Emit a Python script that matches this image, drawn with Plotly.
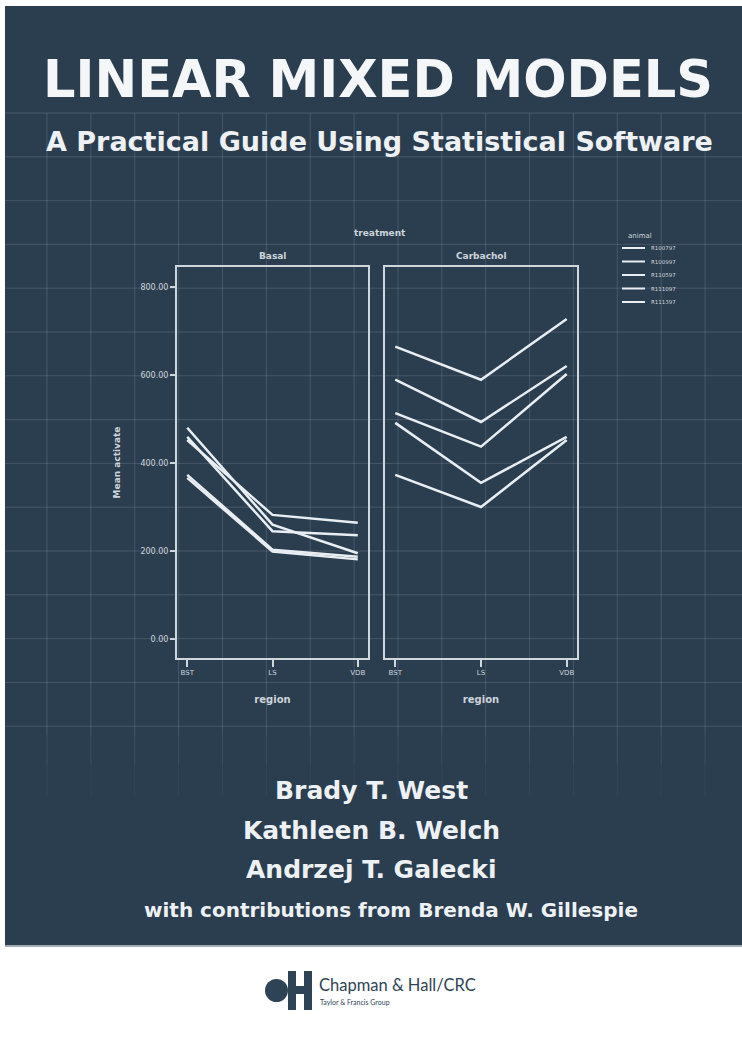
import plotly.graph_objects as go

W, H = 742, 1039

# ---------------- data ----------------
regions = ["BST", "LS", "VDB"]
treatments = ["Basal", "Carbachol"]
animals = ["R100797", "R100997", "R110597", "R111097", "R111397"]

basal_activate = {
    "R100797": [452, 282, 264],
    "R100997": [459, 245, 236],
    "R110597": [373, 203, 187],
    "R111097": [366, 199, 181],
    "R111397": [480, 260, 195],
}
carbachol_activate = {
    "R100797": [589, 493, 620],
    "R100997": [491, 355, 459],
    "R110597": [373, 300, 452],
    "R111097": [664, 589, 727],
    "R111397": [513, 437, 602],
}
y_tick_values = [0, 200, 400, 600, 800]
y_tick_labels = ["0.00", "200.00", "400.00", "600.00", "800.00"]

# ---------------- styling ----------------
NAVY = "#2b3e50"
GRID = "rgba(255,255,255,0.13)"
FRAME = "#cfd6dc"
LINE = "#e9eef2"
SOFT = "#cdd4da"


def px(x):
    return x / W


def py(y):
    return 1 - y / H


fig = go.Figure()

for a in animals:
    fig.add_trace(go.Scatter(
        x=regions, y=basal_activate[a], mode="lines", name=a,
        legendgroup=a, showlegend=False,
        line=dict(color=LINE, width=2.5), xaxis="x", yaxis="y"))
    fig.add_trace(go.Scatter(
        x=regions, y=carbachol_activate[a], mode="lines", name=a,
        legendgroup=a, showlegend=False,
        line=dict(color=LINE, width=2.5), xaxis="x2", yaxis="y2"))

axis_common = dict(
    type="category", range=[-0.12, 2.12], showgrid=False, zeroline=False,
    showline=True, mirror=True, linecolor=FRAME, linewidth=2,
    ticks="outside", ticklen=7, tickwidth=1.5, tickcolor=FRAME,
    tickfont=dict(family="DejaVu Sans", size=7, color=SOFT),
    title=dict(text="<b>region</b>", standoff=20,
               font=dict(family="DejaVu Sans", size=10, color=SOFT)),
)

y_dom = [py(658), py(267)]

shapes = []
# navy cover
shapes.append(dict(type="rect", xref="paper", yref="paper", layer="below",
                   x0=px(5), x1=px(742), y0=py(945), y1=py(6),
                   fillcolor=NAVY, line=dict(width=0)))
shapes.append(dict(type="line", xref="paper", yref="paper", layer="below",
                   x0=px(5), x1=px(742), y0=py(946), y1=py(946),
                   line=dict(color="#9eaab4", width=2)))
# blueprint grid
gx0, gdx, gy0, gdy = 47, 43.87, 113, 43.8
for k in range(16):
    xx = gx0 + gdx * k
    for (ya, yb, op) in [(113, 735, 0.13), (735, 765, 0.08), (765, 795, 0.04)]:
        shapes.append(dict(type="line", xref="paper", yref="paper", layer="below",
                           x0=px(xx), x1=px(xx), y0=py(ya), y1=py(yb),
                           line=dict(color="rgba(255,255,255,%.2f)" % op, width=1)))
for k in range(15):
    yy = gy0 + gdy * k
    shapes.append(dict(type="line", xref="paper", yref="paper", layer="below",
                       x0=px(5), x1=px(742), y0=py(yy), y1=py(yy),
                       line=dict(color=GRID, width=1)))
# legend keys (all series share one white style)
leg_x0, leg_x1, leg_y0, leg_dy = 622, 645, 248, 13.5
for i, a in enumerate(animals):
    yy = leg_y0 + leg_dy * i
    shapes.append(dict(type="line", xref="paper", yref="paper",
                       x0=px(leg_x0), x1=px(leg_x1), y0=py(yy), y1=py(yy),
                       line=dict(color=LINE, width=2)))
# publisher logo
LOGO = "#2e4456"
shapes.append(dict(type="circle", xref="paper", yref="paper",
                   x0=px(265), x1=px(288), y0=py(1002), y1=py(979),
                   fillcolor=LOGO, line=dict(width=0)))
for (xa, xb, ya, yb) in [(288, 296, 971, 1010), (304, 312, 971, 1010), (288, 312, 986, 994)]:
    shapes.append(dict(type="rect", xref="paper", yref="paper",
                       x0=px(xa), x1=px(xb), y0=py(yb), y1=py(ya),
                       fillcolor=LOGO, line=dict(width=0)))

annotations = []


def txt(text, x, y, size, color="white", family="DejaVu Sans", xanchor="center", textangle=0):
    annotations.append(dict(text=text, x=px(x), y=py(y), xref="paper", yref="paper",
                            showarrow=False, xanchor=xanchor, yanchor="middle",
                            textangle=textangle,
                            font=dict(family=family, size=size, color=color)))


txt("<b>LINEAR MIXED MODELS</b>", 378, 79, 51, "#f4f6f8")
txt("<b>A Practical Guide Using Statistical Software</b>", 379, 141, 27, "#eef1f4")
txt("<b>treatment</b>", 380, 233, 9, SOFT)
txt("<b>Basal</b>", 272, 256, 9, SOFT)
txt("<b>Carbachol</b>", 481, 256, 9, SOFT)
txt("animal", 640, 236, 7, SOFT)
for i, a in enumerate(animals):
    txt(a, leg_x1 + 4, leg_y0 + leg_dy * i, 5.5, SOFT, xanchor="left")
txt("<b>Brady T. West</b>", 371, 790, 25, "#eef1f4")
txt("<b>Kathleen B. Welch</b>", 371, 830, 25, "#eef1f4")
txt("<b>Andrzej T. Galecki</b>", 371, 869, 25, "#eef1f4")
txt("<b>with contributions from Brenda W. Gillespie</b>", 391, 910, 20, "#eef1f4")
txt("Chapman &amp; Hall/CRC", 317, 985, 16.5, LOGO, family="Lato", xanchor="left")
txt("Taylor &amp; Francis Group", 318, 1002, 7, LOGO, family="Lato", xanchor="left")

fig.update_layout(
    width=W, height=H, margin=dict(l=0, r=0, t=0, b=0),
    paper_bgcolor="white", plot_bgcolor="rgba(0,0,0,0)",
    xaxis=dict(axis_common, domain=[px(177), px(368)], anchor="y"),
    xaxis2=dict(axis_common, domain=[px(385), px(577)], anchor="y2"),
    yaxis=dict(domain=y_dom, range=[-43, 845], anchor="x",
               tickvals=y_tick_values, ticktext=y_tick_labels,
               showgrid=False, zeroline=False,
               showline=True, mirror=True, linecolor=FRAME, linewidth=2,
               ticks="outside", ticklen=5, tickwidth=1.5, tickcolor=FRAME,
               tickfont=dict(family="DejaVu Sans", size=8, color=SOFT),
               title=dict(text="<b>Mean activate</b>", standoff=18,
                          font=dict(family="DejaVu Sans", size=9, color=SOFT))),
    yaxis2=dict(domain=y_dom, matches="y", anchor="x2", showticklabels=False,
                ticks="", showgrid=False, zeroline=False,
                showline=True, mirror=True, linecolor=FRAME, linewidth=2),
    showlegend=False,
    shapes=shapes, annotations=annotations,
)

fig.write_html("out.html", config={"displayModeBar": False},
               post_script="document.body.style.margin='0';document.body.style.overflow='hidden';")
